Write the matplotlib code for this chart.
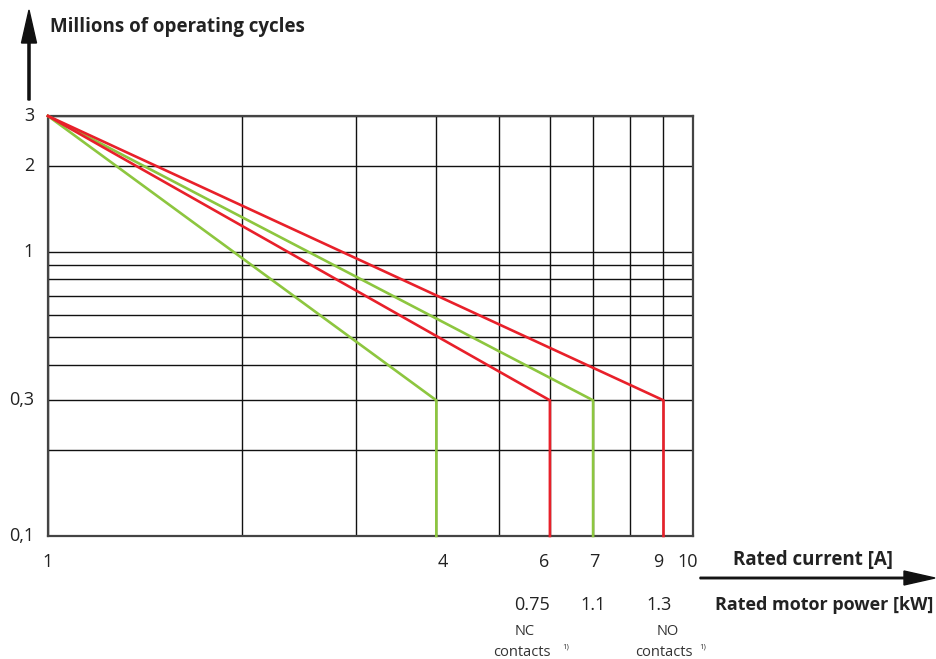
import matplotlib
matplotlib.use("Agg")
import matplotlib.pyplot as plt
from matplotlib.patches import FancyArrow

plt.rcParams['font.family'] = ['Open Sans', 'DejaVu Sans']

# Data
x_grid = [1, 2, 3, 4, 5, 6, 7, 8, 9, 10]
y_grid = [0.1, 0.2, 0.3, 0.4, 0.5, 0.6, 0.7, 0.8, 0.9, 1, 2, 3]
x_ticks = [1, 4, 6, 7, 9, 10]
x_tick_labels = ["1", "4", "6", "7", "9", "10"]
y_ticks = [0.1, 0.3, 1, 2, 3]
y_tick_labels = ["0,1", "0,3", "1", "2", "3"]
power_pos = [6, 7, 9]
power_labels = ["0.75", "1.1", "1.3"]
contact_pos = [6, 9]
contact_words = ["NC", "NO"]

start_point = (1, 3)
knee_y = 0.3
end_y = 0.1
green_ends = [4, 7]
red_ends = [6, 9]

GREEN = "#8dc63f"
RED = "#e8202a"

fig = plt.figure(figsize=(9.36, 6.59), dpi=100)
ax = fig.add_axes([48/936, 1 - 536/659, (693-48)/936, (536-116)/659])
ax.set_xscale('log')
ax.set_yscale('log')
ax.set_xlim(1, 10)
ax.set_ylim(0.1, 3)

for xv in x_grid:
    ax.axvline(xv, color='#111111', lw=1.0, zorder=1)
for yv in y_grid:
    ax.axhline(yv, color='#111111', lw=1.0, zorder=1)

def draw(ends, color):
    for xe in ends:
        ax.plot([start_point[0], xe, xe], [start_point[1], knee_y, end_y],
                color=color, lw=1.9, zorder=3, clip_on=False,
                solid_joinstyle='miter')

draw(green_ends, GREEN)
draw(red_ends, RED)

for s in ax.spines.values():
    s.set_color('#444444')
    s.set_linewidth(1.6)

ax.set_xticks([])
ax.set_yticks([])
ax.minorticks_off()
ax.tick_params(which='both', length=0)

trans_x = ax.get_xaxis_transform()
trans_y = ax.get_yaxis_transform()

# small horizontal nudges (points) as in the original drawing
tick_dx = [0, 5, -4, 1, -4, -4]
for xv, lab, dx in zip(x_ticks, x_tick_labels, tick_dx):
    ax.annotate(lab, xy=(xv, 0), xycoords=trans_x, xytext=(dx, -19),
                textcoords='offset points', ha='center', va='center',
                fontsize=13, color='#222222')

for yv, lab in zip(y_ticks, y_tick_labels):
    ax.annotate(lab, xy=(0, yv), xycoords=trans_y, xytext=(-10, 0),
                textcoords='offset points', ha='right', va='center',
                fontsize=13, color='#222222')

power_dx = [-13, 0, -3]
for xv, lab, dx in zip(power_pos, power_labels, power_dx):
    ax.annotate(lab, xy=(xv, 0), xycoords=trans_x, xytext=(dx, -50),
                textcoords='offset points', ha='center', va='center',
                fontsize=13, color='#222222')

# Contact notes (offsets in points)
note_dx = [(-18, -20, 9), (3, 0, 26)]
for xc, word, (dw, dc, ds) in zip(contact_pos, contact_words, note_dx):
    ax.annotate(word, xy=(xc, 0), xycoords=trans_x, xytext=(dw, -69),
                textcoords='offset points', ha='center', va='center',
                fontsize=10.5, color='#333333')
    ax.annotate("contacts", xy=(xc, 0), xycoords=trans_x, xytext=(dc, -84),
                textcoords='offset points', ha='center', va='center',
                fontsize=10.5, color='#333333')
    ax.annotate("1)", xy=(xc, 0), xycoords=trans_x, xytext=(ds, -80),
                textcoords='offset points', ha='left', va='center',
                fontsize=5.5, color='#333333')

# Axis titles
fig.text(50/936, 1 - 27/659, "Millions of operating cycles", fontsize=13.5,
         fontweight='bold', color='#222222', ha='left', va='center')
fig.text(733/936, 1 - 560/659, "Rated current [A]", fontsize=13.5,
         fontweight='bold', color='#222222', ha='left', va='center')
fig.text(933/936, 1 - 605/659, "Rated motor power [kW]", fontsize=13,
         fontweight='bold', color='#222222', ha='right', va='center')

# Arrows
fig.add_artist(FancyArrow(29/936, 1 - 100/659, 0, 90/659, width=1.5/659,
                          head_width=15/936, head_length=33/659,
                          length_includes_head=True, color='#111111',
                          transform=fig.transFigure))
fig.add_artist(FancyArrow(700/936, 1 - 578/659, 235/936, 0, width=1.5/659,
                          head_width=14/659, head_length=31/936,
                          length_includes_head=True, color='#111111',
                          transform=fig.transFigure))

fig.savefig("out.png", dpi=100)
